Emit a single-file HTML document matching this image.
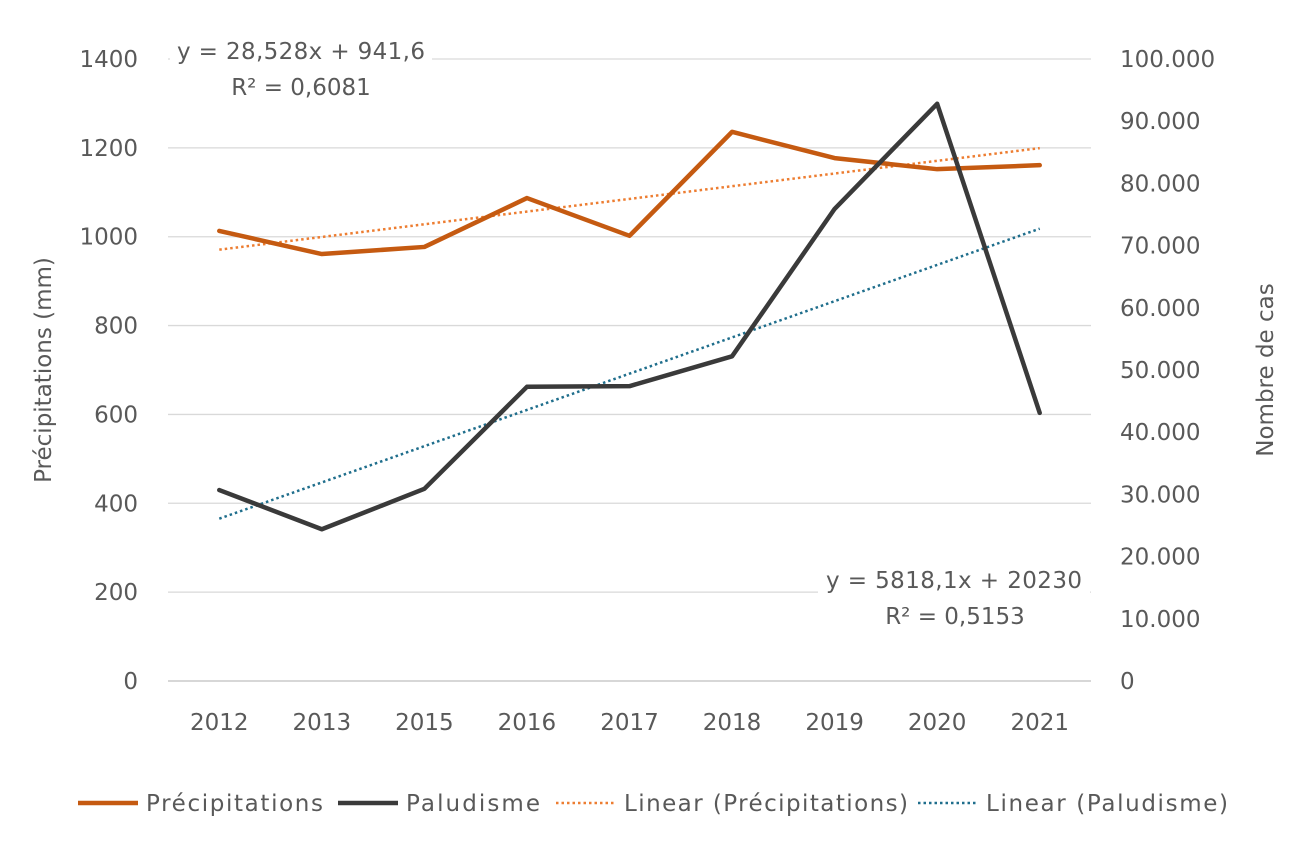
<!DOCTYPE html>
<html><head><meta charset="utf-8"><style>
html,body{margin:0;padding:0;background:#fff;}
svg{display:block;font-family:"DejaVu Sans","Liberation Sans",sans-serif;}
</style></head><body>
<svg id="chart" width="1299" height="846" viewBox="0 0 1299 846" xmlns="http://www.w3.org/2000/svg">
<g id="grid"></g>
<g id="axes"></g>
<g id="series"></g>
<g>
<rect x="170" y="30" width="262" height="75" fill="#fff"/>
<text x="301" y="59" text-anchor="middle" font-size="23" fill="#595959" textLength="248">y = 28,528x + 941,6</text>
<text x="301" y="95" text-anchor="middle" font-size="23" fill="#595959">R² = 0,6081</text>
</g>
<g>
<rect x="818" y="560" width="272" height="75" fill="#fff"/>
<text x="954" y="588" text-anchor="middle" font-size="23" fill="#595959" textLength="256">y = 5818,1x + 20230</text>
<text x="955" y="624" text-anchor="middle" font-size="23" fill="#595959">R² = 0,5153</text>
</g>
<text transform="translate(51,370) rotate(-90)" text-anchor="middle" font-size="23" fill="#595959">Précipitations (mm)</text>
<text transform="translate(1273,370) rotate(-90)" text-anchor="middle" font-size="23" fill="#595959">Nombre de cas</text>
<g font-size="23" fill="#595959">
<g><line x1="78" y1="803" x2="138" y2="803" stroke="#c55a11" stroke-width="4.5"/><text x="146" y="811" textLength="177">Précipitations</text></g>
<g><line x1="338" y1="803" x2="398" y2="803" stroke="#3a3a3a" stroke-width="4.5"/><text x="406" y="811" textLength="134">Paludisme</text></g>
<g><line x1="556" y1="803" x2="616" y2="803" stroke="#ed7d31" stroke-width="2.5" stroke-dasharray="2.5,3"/><text x="624" y="811" textLength="284">Linear (Précipitations)</text></g>
<g><line x1="918" y1="803" x2="978" y2="803" stroke="#1f6e8c" stroke-width="2.5" stroke-dasharray="2.5,3"/><text x="986" y="811" textLength="242">Linear (Paludisme)</text></g>
</g>
</svg>
<script>
const categories = ["2012","2013","2015","2016","2017","2018","2019","2020","2021"];
const precipitations = [1013, 961, 977, 1087, 1002, 1236, 1177, 1152, 1161];
const paludisme = [30700, 24400, 30900, 47300, 47400, 52200, 75900, 92800, 43100];
const leftTicks = [0,200,400,600,800,1000,1200,1400];
const rightTicks = ["0","10.000","20.000","30.000","40.000","50.000","60.000","70.000","80.000","90.000","100.000"];
const NS="http://www.w3.org/2000/svg";
const L=168,R=1091,T=59,B=681;
const step=(R-L)/categories.length;
const xS=i=>L+step*(i+0.5);
const yL=v=>B-(v/1400)*(B-T);
const yR=v=>B-(v/100000)*(B-T);
function mk(tag,attrs,parent){const e=document.createElementNS(NS,tag);for(const k in attrs)e.setAttribute(k,attrs[k]);parent.appendChild(e);return e;}
const grid=document.getElementById('grid'),axes=document.getElementById('axes'),series=document.getElementById('series');
leftTicks.forEach(v=>{
  const ln=mk('line',{x1:L,x2:R,y1:yL(v),y2:yL(v),stroke:v===0?'#bfbfbf':'#d9d9d9','stroke-width':1.3},grid);
  
  
  const t=mk('text',{x:138,y:yL(v)+8,'text-anchor':'end','font-size':23,fill:'#595959'},axes);
  t.textContent=v;
  
  
});
rightTicks.forEach((s,i)=>{
  const t=mk('text',{x:1120,y:yR(i*10000)+8,'font-size':23,fill:'#595959'},axes);
  t.textContent=s;
  
  
});
categories.forEach((c,i)=>{
  const t=mk('text',{x:xS(i),y:730,'text-anchor':'middle','font-size':23,fill:'#595959'},axes);
  t.textContent=c;
  
  
});
function fit(arr){const n=arr.length;let sx=0,sy=0,sxy=0,sxx=0;arr.forEach((y,i)=>{const x=i+1;sx+=x;sy+=y;sxy+=x*y;sxx+=x*x;});const m=(n*sxy-sx*sy)/(n*sxx-sx*sx);return [m,(sy-m*sx)/n];}
function trend(arr,ys,color,name){const [m,b]=fit(arr);const n=arr.length;
  const l=mk('line',{x1:xS(0),y1:ys(m+b),x2:xS(n-1),y2:ys(m*n+b),stroke:color,'stroke-width':2.5,'stroke-dasharray':'2.5,3'},series);
  
  }
function poly(arr,ys,color,name){
  const p=mk('polyline',{points:arr.map((v,i)=>xS(i)+','+ys(v)).join(' '),fill:'none',stroke:color,'stroke-width':4.5,'stroke-linejoin':'round','stroke-linecap':'round'},series);
  
  }
trend(precipitations,yL,'#ed7d31','trendline-precipitations');
trend(paludisme,yR,'#1f6e8c','trendline-paludisme');
poly(precipitations,yL,'#c55a11','line-precipitations');
poly(paludisme,yR,'#3a3a3a','line-paludisme');
</script>
</body></html>
